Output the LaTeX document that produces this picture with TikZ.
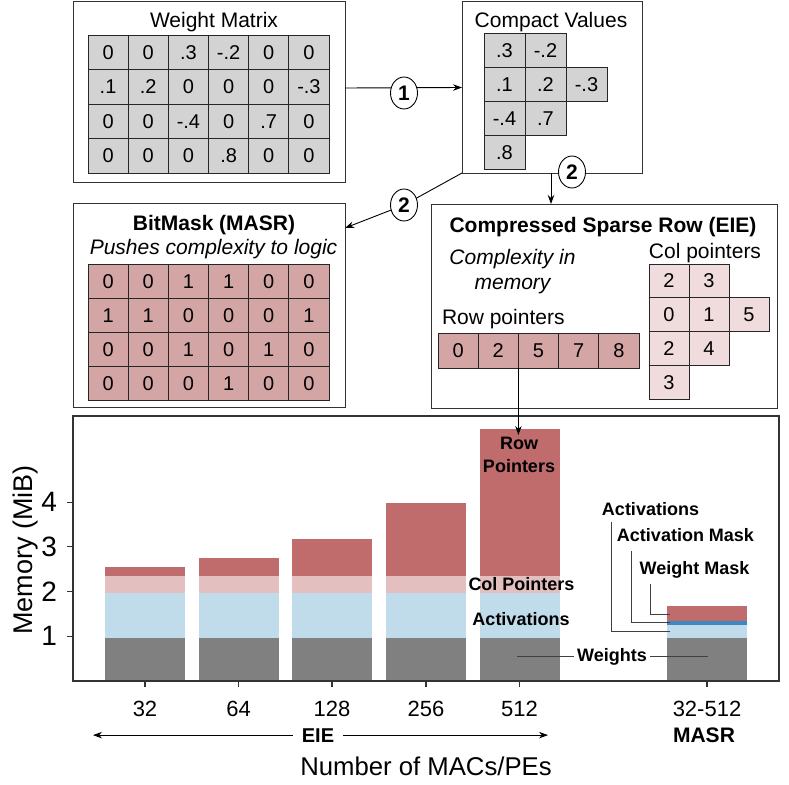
\documentclass[tikz,border=0pt]{standalone}
\usepackage{fontspec}
\setmainfont{Liberation Sans}
\usetikzlibrary{arrows.meta,shapes.geometric}
\definecolor{cellgray}{HTML}{D3D3D3}
\definecolor{maskred}{HTML}{D4A5A5}
\definecolor{colpink}{HTML}{F0DCDC}
\definecolor{wgray}{HTML}{808080}
\definecolor{actblue}{HTML}{C0DCEA}
\definecolor{colptr}{HTML}{E3BFC0}
\definecolor{rowptr}{HTML}{C06C6D}
\definecolor{amask}{HTML}{3D88C3}
\definecolor{linegray}{HTML}{333333}
\newcommand{\eiebar}[2]{%
  \fill[wgray] (#1-40,681) rectangle (#1+40,638);
  \fill[actblue] (#1-40,638) rectangle (#1+40,593);
  \fill[colptr] (#1-40,593) rectangle (#1+40,576);
  \fill[rowptr] (#1-40,576) rectangle (#1+40,#2);}
\begin{document}
\begin{tikzpicture}[x=1pt,y=-1pt,
  every node/.style={inner sep=0pt,outer sep=0pt},
  panel/.style={draw=linegray,line width=1pt,fill=white},
  f21/.style={font=\fontsize{21}{25}\selectfont},
  cellbase/.style={draw=black!85,line width=0.8pt,text height=14pt,text depth=0pt,font=\fontsize{20}{24}\selectfont},
  wcell/.style={cellbase,fill=cellgray,minimum width=40.17pt,minimum height=34.5pt},
  ccell/.style={cellbase,fill=cellgray,minimum width=41pt,minimum height=34pt},
  bcell/.style={cellbase,fill=maskred,minimum width=40.17pt,minimum height=34pt},
  rcell/.style={cellbase,fill=maskred,minimum width=40.2pt,minimum height=35pt},
  pcell/.style={cellbase,fill=colpink,minimum width=40pt,minimum height=33.75pt},
  badge/.style={ellipse,draw=black,line width=0.9pt,fill=white,minimum width=27pt,minimum height=32pt,font=\bfseries\fontsize{21}{25}\selectfont},
  arr/.style={-{Stealth[length=9pt,width=6.5pt]},line width=0.9pt},
  chartlab/.style={anchor=base,font=\bfseries\fontsize{18}{23}\selectfont},
  leader/.style={draw=black!75,line width=0.9pt},
  numlab/.style={anchor=base,font=\fontsize{22}{26}\selectfont},
  ticklab/.style={anchor=east,font=\fontsize{28}{32}\selectfont},
]
\useasboundingbox (0,0) rectangle (789,784);
\fill[white] (0,0) rectangle (789,784);

% ---- panels
\node[panel,minimum width=272pt,minimum height=180pt] (wbox) at (209,92) {};
\node[panel,minimum width=180pt,minimum height=171pt] (cbox) at (552,87.5) {};
\node[panel,minimum width=272pt,minimum height=204pt] (bbox) at (209,305) {};
\node[panel,minimum width=346pt,minimum height=204pt] (sbox) at (604,306) {};

% ---- titles
\node[f21,anchor=base] (wtitle) at (214,28) {Weight Matrix};
\node[f21,anchor=base] (ctitle) at (551,28) {Compact Values};
\node[anchor=base,font=\bfseries\fontsize{21}{25}\selectfont] (btitle) at (214,230) {BitMask (MASR)};
\node[anchor=base,font=\itshape\fontsize{21}{25}\selectfont] (bsub) at (213.5,254) {Pushes complexity to logic};
\node[anchor=base,font=\bfseries\fontsize{21}{25}\selectfont] (stitle) at (603,232) {Compressed Sparse Row (EIE)};
\node[align=center,anchor=north,font=\itshape\fontsize{21}{25}\selectfont] (ssub) at (512.5,249) {Complexity in\\memory};
\node[f21,anchor=base west] (rplab) at (442,324) {Row pointers};
\node[f21,anchor=base] (cplab) at (705,258) {Col pointers};

% ---- weight matrix
\foreach \rowvals [count=\r] in {{0,0,.3,-.2,0,0},{.1,.2,0,0,0,-.3},{0,0,-.4,0,.7,0},{0,0,0,.8,0,0}}
  \foreach \v [count=\c] in \rowvals
    \node[wcell] (w\r\c) at ({88+40.17*(\c-0.5)},{35+34.5*(\r-0.5)}) {\v};

% ---- bitmask
\foreach \rowvals [count=\r] in {{0,0,1,1,0,0},{1,1,0,0,0,1},{0,0,1,0,1,0},{0,0,0,1,0,0}}
  \foreach \v [count=\c] in \rowvals
    \node[bcell] (m\r\c) at ({88+40.17*(\c-0.5)},{264+34*(\r-0.5)}) {\v};

% ---- compact values
\foreach \v/\c/\r in {.3/1/1,-.2/2/1,.1/1/2,.2/2/2,-.3/3/2,-.4/1/3,.7/2/3,.8/1/4}
  \node[ccell] (c\r\c) at ({484+41*(\c-0.5)},{33+34*(\r-0.5)}) {\v};

% ---- row pointers
\foreach \v [count=\c] in {0,2,5,7,8}
  \node[rcell] (rp\c) at ({438+40.2*(\c-0.5)},350.5) {\v};

% ---- col pointers
\foreach \v/\c/\r in {2/1/1,3/2/1,0/1/2,1/2/2,5/3/2,2/1/3,4/2/3,3/1/4}
  \node[pcell] (p\r\c) at ({649+40*(\c-0.5)},{264+33.75*(\r-0.5)}) {\v};

% ---- connectors between panels
\draw[arr] ([yshift=4pt]wbox.east) -- (cbox.west);
\node[badge] (b1) at (404,93) {1};
\draw[arr] ([xshift=-1pt]cbox.south) -- ([xshift=-1pt]cbox.south |- sbox.north);
\node[badge] (b2a) at (572,172) {2};
\node[badge] (b2b) at (404,205) {2};
\draw[line width=0.9pt] (cbox.south west) -- (b2b);
\draw[arr] (b2b) -- ([yshift=77pt]bbox.east);

% ---- chart bars
\eiebar{145}{567}
\eiebar{238.5}{558}
\eiebar{332}{539}
\eiebar{426}{503}
\eiebar{519.5}{429}
\fill[wgray] (666.5,681) rectangle (746.5,638);
\fill[actblue] (666.5,638) rectangle (746.5,625);
\fill[amask] (666.5,625) rectangle (746.5,621);
\fill[rowptr] (666.5,621) rectangle (746.5,606);

% ---- chart frame and ticks
\draw[linegray,line width=1.2pt] (73,416) rectangle (779,681);
\foreach \y/\t in {636.3/1,591.6/2,546.9/3,502.2/4}{
  \draw[linegray,line width=1.1pt] (67,\y) -- (73,\y);
  \node[ticklab] (yt\t) at (57,\y) {\t};
}
\foreach \x in {145,238.5,332,426,519.5,707}
  \draw[linegray,line width=1.1pt] (\x,681) -- (\x,687);
\node[numlab] (x32) at (145,716) {32};
\node[numlab] (x64) at (238.5,716) {64};
\node[numlab] (x128) at (332,716) {128};
\node[numlab] (x256) at (426,716) {256};
\node[numlab] (x512) at (519.5,716) {512};
\node[numlab] (xmasr) at (707,716) {32-512};
\node[anchor=base,font=\bfseries\fontsize{21}{25}\selectfont] (masr) at (704,742) {MASR};
\node[anchor=base,font=\bfseries\fontsize{20}{24}\selectfont,inner xsep=9pt] (eie) at (318,742) {EIE};
\coordinate (eieL) at (93,734);
\coordinate (eieR) at (548,734);
\draw[arr,line width=0.8pt] (eie.west) -- (eie.west -| eieL);
\draw[arr,line width=0.8pt] (eie.east) -- (eie.east -| eieR);
\node[anchor=base,font=\fontsize{25.7}{30}\selectfont] (xlab) at (426,775) {Number of MACs/PEs};
\node[rotate=90,anchor=base,font=\fontsize{27}{31}\selectfont] (ylab) at (32,550) {Memory (MiB)};

% ---- chart labels
\node[align=center,anchor=north,font=\bfseries\fontsize{18}{23}\selectfont] (rowlab) at (519,437) {Row\\Pointers};
\node[chartlab] (collab) at (521.5,590) {Col Pointers};
\node[chartlab] (actlab) at (521,625) {Activations};
\node[chartlab,inner xsep=3pt] (wlab) at (612,661) {Weights};
\coordinate (wL) at (517,655);
\coordinate (wR) at (708,655);
\draw[leader] (wlab.west) -- (wlab.west -| wL);
\draw[leader] (wlab.east) -- (wlab.east -| wR);

\node[chartlab] (mact) at (650.5,515) {Activations};
\node[chartlab] (mam) at (685.5,541) {Activation Mask};
\node[chartlab] (mwm) at (694.5,574) {Weight Mask};
\coordinate (mactTop) at (611,522);
\coordinate (mactEnd) at (670,631);
\coordinate (mamTop) at (631,551);
\coordinate (mamEnd) at (670,622);
\coordinate (mwmTop) at (650,584);
\coordinate (mwmEnd) at (670,614);
\draw[leader] (mactTop) |- (mactEnd);
\draw[leader] (mamTop) |- (mamEnd);
\draw[leader] (mwmTop) |- (mwmEnd);

% ---- row pointer arrow into chart
\coordinate (rptop) at (519,435);
\draw[arr] (rp2.south east) -- (rp2.south east |- rptop);
\end{tikzpicture}
\end{document}
